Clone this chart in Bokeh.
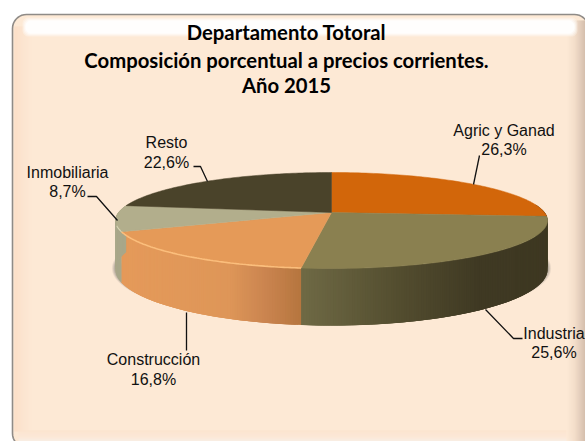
import numpy as np
from bokeh.plotting import figure
from bokeh.models import Range1d
from bokeh.core.properties import value
from bokeh.embed import file_html
from bokeh.resources import INLINE

# ---- data ----
categories = ["Agric y Ganad", "Industria", "Construcción", "Inmobiliaria", "Resto"]
shares = [26.3, 25.6, 16.8, 8.7, 22.6]
share_labels = ["26,3%", "25,6%", "16,8%", "8,7%", "22,6%"]
title_lines = ["Departamento Totoral", "Composición porcentual a precios corrientes.", "Año 2015"]

# ---- style ----
top_colors = ["#D2660A", "#8A8050", "#E59A58", "#B2AE8C", "#4A432A"]
wall_stops = [
    ([0, 1], ["#3E3822", "#3E3822"]),
    ([301, 400, 480, 548], ["#6F6A45", "#534D2F", "#3F3923", "#3E3822"]),
    ([120, 230, 265, 301], ["#E59A5A", "#DE9658", "#CB8550", "#B6763F"]),
    ([0, 1], ["#A9A78A", "#A9A78A"]),
    ([0, 1], ["#3E3822", "#3E3822"]),
]
label_x = [503.5, 553.5, 153, 67, 166]
label_y1 = [130, 333, 359, 172, 142]
label_y2 = [149, 352, 379, 191, 162]
leaders = [
    ([479, 473], [155, 184]),
    ([522, 513, 485], [338, 338, 309]),
    ([186, 186], [350, 312]),
    ([87, 96, 117], [196, 196, 220]),
    ([193, 200, 207], [166, 166, 181]),
]
CX, CY, A, B, K, DEPTH = 331.0, 212.0, 213.0, 46.67, 1 / 6, 47.5
PANEL = "#FDE9D5"

W, H = 585, 441
p = figure(width=W, height=H, output_backend="svg", toolbar_location=None,
           x_range=Range1d(0, W), y_range=Range1d(H, 0),
           min_border=0, outline_line_color=None, background_fill_color="white",
           border_fill_color="white")
p.axis.visible = False
p.grid.visible = False


def rounded(x0, y0, x1, y1, r):
    xs, ys = [], []
    for cx, cy, a0 in [(x1 - r, y0 + r, -90), (x1 - r, y1 - r, 0), (x0 + r, y1 - r, 90), (x0 + r, y0 + r, 180)]:
        a = np.radians(np.linspace(a0, a0 + 90, 10))
        xs += list(cx + r * np.cos(a))
        ys += list(cy + r * np.sin(a))
    return xs, ys


def hexrgb(c):
    return [int(c[i:i + 2], 16) for i in (1, 3, 5)]


def ramp(x, xp, cp):
    rgb = [np.interp(x, xp, [hexrgb(c)[i] for c in cp]) for i in range(3)]
    return "#%02X%02X%02X" % tuple(int(round(v)) for v in rgb)


# ---- panel ----
xs, ys = rounded(12, 14, 588, 447, 14)
p.patch(xs, ys, fill_color=PANEL, line_color="#8F8B87", line_width=1.6)
# left bevel
for x in range(14, 31):
    p.quad(left=x, right=x + 1, top=26, bottom=431,
           fill_color=ramp(x, [14, 22, 31], ["#FBDCC4", "#FCE3CE", PANEL]), line_color=None)
# bottom bevel
for y in range(430, 441):
    p.quad(left=18, right=572, top=y, bottom=y + 1,
           fill_color=ramp(y, [430, 436, 440], ["#FBE3CE", "#FCE8D8", "#F8EFE8"]), line_color=None)
# right bevel
for x in range(566, 586):
    p.quad(left=x, right=x + 1, top=20, bottom=441,
           fill_color=ramp(x, [566, 574, 585], [PANEL, "#F0DAC6", "#C4AE9C"]), line_color=None)
# top highlight
for inset, alpha in [(0, 0.3), (1, 0.35), (2, 0.5), (3, 0.8)]:
    xs, ys = rounded(22 + inset, 17 + inset, 577 - inset, 36 - inset, 6)
    p.patch(xs, ys, fill_color="white", fill_alpha=alpha, line_color=None)


# ---- pie: perspective projection of a disc, driven by shares ----
def proj(t, depth=0.0, a=A):
    X, Y = np.sin(t), np.cos(t)
    den = 1 + K * Y
    return CX + a * X / den, CY - B * Y / den + depth / den


edges = np.radians(np.concatenate([[0], np.cumsum(shares)]) * 3.6)

# soft shadow at the two ends of the base
for grow, alpha in [(3.5, 0.10), (2.5, 0.14), (1.5, 0.18)]:
    for d0, d1 in [(235, 272), (88, 125)]:
        t = np.radians(np.linspace(d0, d1, 60))
        x1, y1 = proj(t, DEPTH - 1, A + grow)
        p.patch(list(x1), list(y1), fill_color="#555555", fill_alpha=alpha, line_color=None)

# walls: each quad overlaps the next one so no seams show
wx, wy, wc = [], [], []
lo, hi = np.radians(80), edges[4]
for i in range(4):
    t0, t1 = max(edges[i], lo), min(edges[i + 1], hi)
    if t1 <= t0:
        continue
    n = max(2, int(np.degrees(t1 - t0) / 0.6))
    ts = np.linspace(t0, t1, n + 1)
    step = ts[1] - ts[0]
    for a in ts[:-1]:
        b = min(a + 3 * step, t1)
        xa, ya = proj(a)
        xb, yb = proj(b)
        xc, yc = proj(b, DEPTH)
        xd, yd = proj(a, DEPTH)
        wx.append([xa, xb, xc, xd])
        wy.append([ya, yb, yc, yd])
        wc.append(ramp(xa, *wall_stops[i]))
p.patches(wx, wy, fill_color=wc, line_color=None)

# tops
for i in range(len(shares)):
    t = np.linspace(edges[i], edges[i + 1], 80)
    x, y = proj(t)
    p.patch([CX] + list(x), [CY] + list(y), fill_color=top_colors[i],
            line_color=top_colors[i], line_width=0.5)

# rim highlights
t = np.linspace(edges[2], edges[3], 80)
x, y = proj(t)
p.line(x, y, line_color="#FBBE7C", line_width=1.6)
t = np.linspace(edges[3], edges[3] + 0.12, 10)
x, y = proj(t)
p.line(x, y, line_color="#D8D6B4", line_width=1.2)

# ---- leaders and labels ----
for lx, ly in leaders:
    p.line(lx, ly, line_color="#111111", line_width=1.3)

font = value("Liberation Sans")
p.text(label_x, label_y1, text=categories, text_font=font, text_font_size="16px",
       text_color="#111111", text_align="center", text_baseline="middle")
p.text(label_x, label_y2, text=share_labels, text_font=font, text_font_size="16px",
       text_color="#111111", text_align="center", text_baseline="middle")
p.text([286, 286, 286], [31, 59, 84], text=title_lines, text_font=value("Lato"),
       text_font_style="bold", text_font_size="20.3px", text_color="#000000",
       text_align="center", text_baseline="middle")

open("out.html", "w").write(file_html(p, INLINE))
